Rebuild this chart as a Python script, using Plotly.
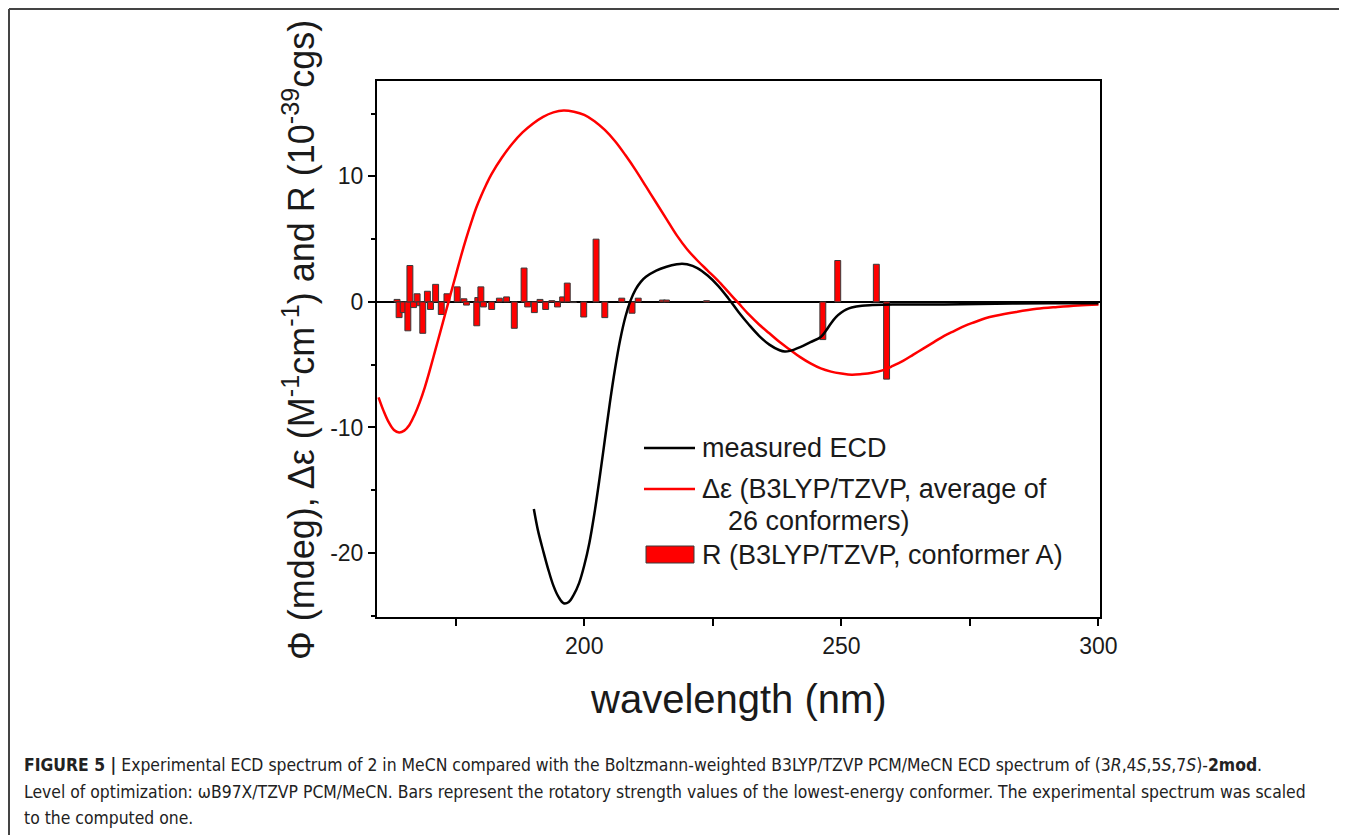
import plotly.graph_objects as go

# ---------------- data ----------------
# computed spectrum (Boltzmann-averaged, B3LYP/TZVP)
wl_calc = [160, 161, 162, 163, 164, 165, 166, 167, 168, 169, 170, 171, 172, 173, 174,
           175, 176, 177, 178, 179, 180, 181, 182, 184, 186, 188, 190, 192, 194, 196,
           198, 200, 202, 204, 206, 208, 210, 212, 214, 216, 218, 220, 222, 224, 226,
           228, 230, 232, 234, 236, 238, 240, 242, 244, 246, 248, 250, 252, 254, 256,
           258, 260, 262, 264, 266, 268, 270, 272, 274, 276, 278, 280, 284, 288, 292,
           296, 300]
de_calc = [-7.6, -8.7, -9.6, -10.2, -10.4, -10.25, -9.8, -9.0, -8.0, -6.8, -5.4, -3.9, -2.4, -0.9, 0.6,
           2.1, 3.6, 5.0, 6.3, 7.5, 8.5, 9.4, 10.2, 11.5, 12.6, 13.5, 14.2, 14.75, 15.1, 15.25,
           15.15, 14.9, 14.4, 13.7, 12.8, 11.7, 10.5, 9.2, 7.9, 6.6, 5.3, 4.2, 3.3, 2.5, 1.7,
           0.8, -0.1, -1.0, -1.8, -2.5, -3.2, -3.8, -4.4, -4.9, -5.3, -5.55, -5.7, -5.8, -5.75, -5.65,
           -5.45, -5.1, -4.7, -4.2, -3.7, -3.2, -2.7, -2.3, -1.9, -1.6, -1.3, -1.1, -0.8, -0.55, -0.4,
           -0.28, -0.2]

# measured ECD (scaled)
wl_meas = [190.2, 191, 192, 193, 194, 195, 196, 197, 198, 199, 200, 201, 202, 203, 204,
           205, 206, 207, 208, 209, 210, 211, 212, 214, 216, 218, 219, 220, 222, 224,
           226, 228, 230, 232, 234, 236, 238, 239, 240, 242, 244, 246, 247, 248, 249,
           250, 251, 252, 254, 256, 260, 270, 280, 290, 300]
phi_meas = [-16.5, -18.2, -19.8, -21.3, -22.6, -23.5, -24.0, -23.9, -23.3, -22.4, -21.0, -19.2, -16.8, -14.0, -11.0,
            -8.0, -5.3, -3.0, -1.2, 0.1, 1.0, 1.6, 2.0, 2.5, 2.8, 3.0, 3.05, 3.0, 2.7, 2.1,
            1.3, 0.3, -0.8, -1.8, -2.7, -3.4, -3.85, -3.95, -3.9, -3.6, -3.2, -2.8, -2.3, -1.7, -1.2,
            -0.85, -0.6, -0.45, -0.3, -0.25, -0.2, -0.2, -0.15, -0.1, -0.1]

# rotatory strengths, conformer A
wl_bars = [163.6, 164.0, 164.8, 165.7, 166.1, 166.8, 167.5, 168.0, 168.6, 169.5, 170.1, 171.1,
           172.2, 173.3, 175.3, 176.6, 177.1, 179.1, 179.3, 179.9, 180.4, 182.0, 183.5, 184.9,
           186.4, 188.3, 189.0, 190.3, 191.4, 192.5, 193.7, 194.8, 195.8, 196.7, 197.9, 199.9,
           202.3, 204.0, 207.3, 209.3, 210.5, 215.2, 216.0, 223.8, 246.4, 249.3, 256.8, 258.8]
r_bars = [0.2, -1.25, -0.85, -2.3, 2.9, -0.45, 0.65, -0.3, -2.5, 0.85, -0.6, 1.4,
          -1.0, 0.65, 1.2, 0.25, -0.25, -1.9, 0.35, 1.2, -0.4, -0.6, 0.3, 0.4,
          -2.1, 2.7, -0.4, -0.85, 0.2, -0.6, 0.1, -0.4, 0.4, 1.5, -0.05, -1.2,
          5.0, -1.25, 0.3, -0.9, 0.3, 0.15, 0.15, 0.1, -3.0, 3.3, 3.0, -6.15]

x_ticks = [200, 250, 300]
x_ticktext = ["200", "250", "300"]
x_minor = [175, 225, 275]
y_ticks = [-20, -10, 0, 10]
y_ticktext = ["-20", "-10", "0", "10"]
y_minor = [-25, -15, -5, 5, 15]

# ---------------- layout geometry ----------------
OX, OY = 8, 8            # page body margin
W, H = 1339, 827
ML, MT = 369, 73
MR = W - (1100 - OX)
MB = H - (617 - OY)
PW = W - ML - MR
PH = H - MT - MB


def px(x):
    """screen x -> paper x"""
    return (x - OX - ML) / PW


def py(y):
    """screen y -> paper y"""
    return (H - MB - (y - OY)) / PH


FONT = "Liberation Sans, Arial, sans-serif"
NARROW = "DejaVu Sans Condensed, Liberation Sans Narrow, Arial Narrow, sans-serif"

fig = go.Figure()

fig.add_trace(go.Scatter(x=wl_calc, y=de_calc, mode="lines",
                         line=dict(color="#ff0000", width=2.5, shape="spline"),
                         name="Δε (B3LYP/TZVP, average of 26 conformers)", showlegend=False))
fig.add_trace(go.Scatter(x=wl_meas, y=phi_meas, mode="lines",
                         line=dict(color="#000000", width=2.5, shape="spline"),
                         name="measured ECD", showlegend=False))
fig.add_trace(go.Bar(x=wl_bars, y=r_bars, width=1.15,
                     marker=dict(color="#ff0000", line=dict(color="#3a3a3a", width=1)),
                     name="R (B3LYP/TZVP, conformer A)", showlegend=False))

fig.update_layout(
    width=W, height=H,
    margin=dict(l=ML, r=MR, t=MT, b=MB, pad=0),
    paper_bgcolor="white", plot_bgcolor="white",
    barmode="overlay",
    font=dict(family=FONT, color="#1a1a1a"),
    xaxis=dict(range=[159.7, 300.3], showgrid=False, zeroline=False,
               showline=True, linecolor="black", linewidth=2, mirror=True,
               tickmode="array", tickvals=x_ticks, ticktext=x_ticktext,
               ticks="outside", ticklen=7, tickwidth=1.5, tickcolor="black",
               tickfont=dict(size=23, family=FONT, color="#1a1a1a"),
               minor=dict(tickmode="array", tickvals=x_minor, ticks="outside",
                          ticklen=7, tickwidth=1.5, tickcolor="black", showgrid=False)),
    yaxis=dict(range=[-25.1, 17.6], showgrid=False,
               zeroline=True, zerolinecolor="black", zerolinewidth=1.5,
               showline=True, linecolor="black", linewidth=2, mirror=True,
               tickmode="array", tickvals=y_ticks, ticktext=y_ticktext,
               ticks="outside", ticklen=7, tickwidth=1.5, tickcolor="black",
               tickfont=dict(size=23, family=FONT, color="#1a1a1a"),
               minor=dict(tickmode="array", tickvals=y_minor, ticks="outside",
                          ticklen=4, tickwidth=1.5, tickcolor="black", showgrid=False)),
)

shapes = []
# journal figure frame (left and top)
shapes.append(dict(type="line", xref="paper", yref="paper",
                   x0=px(9), x1=px(9), y0=py(9), y1=py(OY + H + 2),
                   line=dict(color="#444444", width=2)))
shapes.append(dict(type="line", xref="paper", yref="paper",
                   x0=px(9), x1=px(OX + W + 2), y0=py(9), y1=py(9),
                   line=dict(color="#444444", width=2)))
# legend swatches
shapes.append(dict(type="line", xref="paper", yref="paper",
                   x0=px(644), x1=px(695), y0=py(448), y1=py(448),
                   line=dict(color="black", width=2.5)))
shapes.append(dict(type="line", xref="paper", yref="paper",
                   x0=px(644), x1=px(695), y0=py(489), y1=py(489),
                   line=dict(color="#ff0000", width=2.5)))
shapes.append(dict(type="rect", xref="paper", yref="paper",
                   x0=px(646), x1=px(694), y0=py(563), y1=py(546),
                   fillcolor="#ff0000", line=dict(color="#3a3a3a", width=1)))
fig.update_layout(shapes=shapes)

ann = []


def text(x, y, s, size, xanchor="left", family=FONT, color="#1a1a1a", angle=0):
    ann.append(dict(xref="paper", yref="paper", x=px(x), y=py(y), text=s,
                    showarrow=False, xanchor=xanchor, yanchor="middle",
                    textangle=angle, font=dict(size=size, family=family, color=color)))


# legend texts
text(700, 448, "measured ECD", 27)
text(700, 489, "Δε (B3LYP/TZVP, average of", 27)
text(726, 521, "26 conformers)", 27)
text(700, 555, "R (B3LYP/TZVP, conformer A)", 27)

# axis titles
text(738, 699, "wavelength (nm)", 40, xanchor="center")
text(299, 340, "Φ (mdeg), Δε (M<sup>-1</sup>cm<sup>-1</sup>) and R (10<sup>-39</sup>cgs)", 36,
     xanchor="center", angle=-90)

# caption
cap1 = ("<b>FIGURE 5 |</b> Experimental ECD spectrum of 2 in MeCN compared with the Boltzmann-weighted "
        "B3LYP/TZVP PCM/MeCN ECD spectrum of (3<i>R</i>,4<i>S</i>,5<i>S</i>,7<i>S</i>)-<b>2mod</b>.")
cap2 = ("Level of optimization: ωB97X/TZVP PCM/MeCN. Bars represent the rotatory strength values of the "
        "lowest-energy conformer. The experimental spectrum was scaled")
cap3 = "to the computed one."
text(22, 765, cap1, 17.4, family=NARROW, color="#222222")
text(22, 792, cap2, 17.4, family=NARROW, color="#222222")
text(22, 818, cap3, 17.4, family=NARROW, color="#222222")

fig.update_layout(annotations=ann)

fig.write_html("out.html")
